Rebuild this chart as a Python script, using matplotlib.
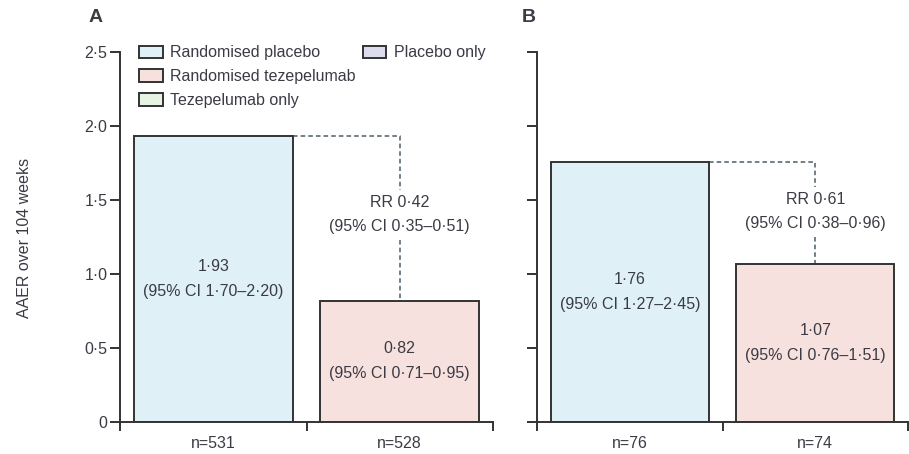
import matplotlib
matplotlib.use("Agg")
import matplotlib.pyplot as plt
from matplotlib.patches import Patch

plt.rcParams['font.family'] = ['Liberation Sans', 'DejaVu Sans']

# data
groups = ["Randomised placebo", "Randomised tezepelumab"]
aaer_a = [1.93, 0.82]
aaer_b = [1.76, 1.07]
ci_a = ["(95% CI 1·70–2·20)", "(95% CI 0·71–0·95)"]
ci_b = ["(95% CI 1·27–2·45)", "(95% CI 0·76–1·51)"]
n_a = ["n=531", "n=528"]
n_b = ["n=76", "n=74"]
rr_a = ["RR 0·42", "(95% CI 0·35–0·51)"]
rr_b = ["RR 0·61", "(95% CI 0·38–0·96)"]
yticks = [0, 0.5, 1.0, 1.5, 2.0, 2.5]
ytick_labels = ["0", "0·5", "1·0", "1·5", "2·0", "2·5"]

colors = {"Randomised placebo": "#dff0f7",
          "Randomised tezepelumab": "#f7e1de",
          "Tezepelumab only": "#e7f3e3",
          "Placebo only": "#dcdcee"}
edge = "#333333"
txt = "#3b3b45"
dash = "#4d5c66"
fs = 11.5

fig = plt.figure(figsize=(9.09, 4.54), dpi=100)
axA = fig.add_axes([120 / 909, 32 / 454, 373 / 909, 370 / 454])
axB = fig.add_axes([537 / 909, 32 / 454, 371 / 909, 370 / 454])


def fmt(v):
    return f"{v:.2f}".replace(".", "·")


def panel(ax, vals, cis, ns, rr, rr_y, show_labels):
    x = [0, 1]
    ax.bar(x, vals, width=0.85, color=[colors[g] for g in groups],
           edgecolor=edge, linewidth=1.4, zorder=2)
    for xi, v, c in zip(x, vals, cis):
        ax.text(xi, v / 2 + 0.085, fmt(v), ha="center", va="center", fontsize=fs, color=txt)
        ax.text(xi, v / 2 - 0.085, c, ha="center", va="center", fontsize=fs, color=txt)
    # dashed connector with rate ratio
    top, low = vals[0], vals[1]
    ax.plot([0.425, 1, 1], [top, top, rr_y + 0.09], ls=(0, (3, 2)), color=dash, lw=1.1, zorder=1)
    ax.plot([1, 1], [rr_y - 0.25, low], ls=(0, (3, 2)), color=dash, lw=1.1, zorder=1)
    ax.text(1, rr_y, rr[0], ha="center", va="center", fontsize=fs, color=txt)
    ax.text(1, rr_y - 0.16, rr[1], ha="center", va="center", fontsize=fs, color=txt)

    ax.set_xlim(-0.5, 1.5)
    ax.set_ylim(0, 2.5)
    ax.set_xticks([-0.5, 0.5, 1.5])
    ax.set_xticklabels([])
    ax.set_xticks([0, 1], minor=True)
    ax.set_xticklabels(ns, minor=True, fontsize=fs, color=txt)
    ax.tick_params(axis="x", which="major", direction="out", length=6.5, width=1.4, color=edge)
    ax.tick_params(axis="x", which="minor", length=0, pad=10)
    ax.set_yticks(yticks)
    if show_labels:
        ax.set_yticklabels(ytick_labels, fontsize=fs, color=txt)
    else:
        ax.set_yticklabels([])
    ax.tick_params(axis="y", direction="out", length=7, width=1.4, color=edge, pad=2)
    for s in ["top", "right"]:
        ax.spines[s].set_visible(False)
    for s in ["left", "bottom"]:
        ax.spines[s].set_linewidth(1.4)
        ax.spines[s].set_color(edge)
    ax.set_facecolor("none")


panel(axA, aaer_a, ci_a, n_a, rr_a, 1.48, True)
panel(axB, aaer_b, ci_b, n_b, rr_b, 1.50, False)

blank = Patch(facecolor="none", edgecolor="none")
labels = ["Randomised placebo", "Randomised tezepelumab", "Tezepelumab only", "Placebo only"]
handles = [Patch(facecolor=colors[k], edgecolor=edge, linewidth=1.4) for k in labels]
leg = axA.legend(handles + [blank, blank], labels + ["", ""], ncol=2, frameon=False,
                 loc="upper left", bbox_to_anchor=(0.035, 1.035), fontsize=fs,
                 handlelength=1.45, handleheight=0.85, handletextpad=0.45,
                 labelspacing=0.55, columnspacing=0.5, borderaxespad=0)
for t in leg.get_texts():
    t.set_color(txt)

fig.text(89 / 909, 1 - 18 / 454, "A", fontsize=14, fontweight="bold", color=txt, va="center")
fig.text(522 / 909, 1 - 18 / 454, "B", fontsize=14, fontweight="bold", color=txt, va="center")
fig.text(25 / 909, 1 - 238 / 454, "AAER over 104 weeks", rotation=90, fontsize=fs,
         color=txt, ha="center", va="center")

fig.savefig("out.png", dpi=100)
